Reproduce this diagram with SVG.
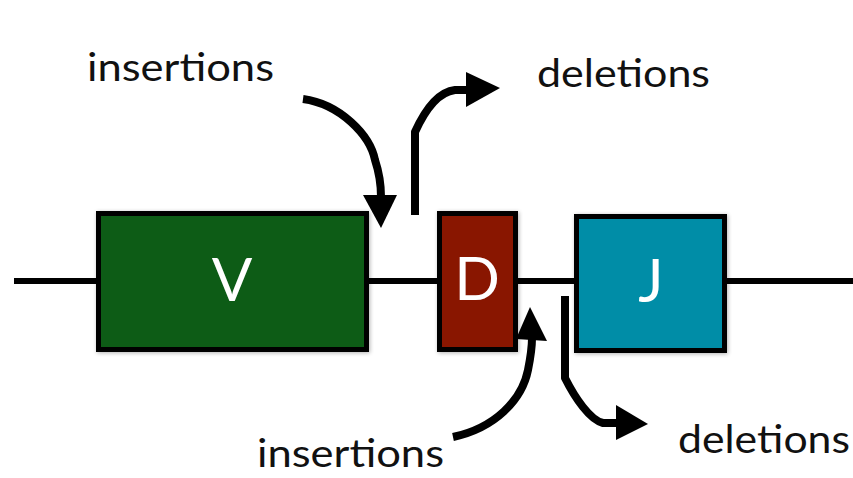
<svg xmlns="http://www.w3.org/2000/svg" width="853" height="478" viewBox="0 0 853 478">
  <style>
    .seg { stroke: #000; stroke-width: 5; }
    .lbl { font-family: Lato, "Noto Sans", sans-serif; font-size: 38px; fill: #111; }
    .gene { font-family: Lato, "Noto Sans", sans-serif; font-size: 60px; fill: #fff; text-anchor: middle; }
    .arrow { fill: none; stroke: #000; stroke-width: 8; stroke-linejoin: round; }
  </style>
  <defs>
    <filter id="shadow" x="-10%" y="-10%" width="120%" height="120%">
      <feGaussianBlur in="SourceAlpha" stdDeviation="2"/>
      <feOffset dx="1" dy="1" result="b"/>
      <feComponentTransfer><feFuncA type="linear" slope="0.3"/></feComponentTransfer>
      <feMerge><feMergeNode/><feMergeNode in="SourceGraphic"/></feMerge>
    </filter>
  </defs>
  <rect width="853" height="478" fill="#fff"/>

  <!-- backbone -->
  <line x1="14" y1="281" x2="853" y2="281" stroke="#000" stroke-width="6"/>

  <g id="node-V" filter="url(#shadow)">
    <rect class="seg" x="98.5" y="213.5" width="268" height="136" fill="#0e5b18"/>
    <text class="gene" x="232" y="301">V</text>
  </g>
  <g id="node-D" filter="url(#shadow)">
    <rect class="seg" x="439.5" y="213.5" width="76" height="136" fill="#891200"/>
    <text class="gene" x="477" y="300">D</text>
  </g>
  <g id="node-J" filter="url(#shadow)">
    <rect class="seg" x="576.5" y="216.5" width="148" height="134" fill="#018da7"/>
    <text class="gene" x="651" y="302">J</text>
  </g>

  <g id="connectors">
    <!-- top insertions -->
    <path class="arrow" d="M303,99 C340,104 370,135 375,160 C380,175 381,185 381,197"/>
    <polygon points="363,195 397,195 381,228"/>
    <!-- top deletions -->
    <path class="arrow" d="M415,215 L415,132 C425,110 438,92 455,90 L468,90"/>
    <polygon points="466,72 466,107 500,88"/>
    <!-- bottom insertions -->
    <path class="arrow" d="M453,437 C495,428 522,400 528,370 C531,355 532,347 532,338"/>
    <polygon points="516,339 547,341 530,307"/>
    <!-- bottom deletions -->
    <path class="arrow" d="M565,296 L565,378 C575,398 590,420 603,423 L618,423"/>
    <polygon points="616,405 616,440 648,424"/>
  </g>

  <g id="labels">
    <text class="lbl" x="87" y="81" textLength="187" lengthAdjust="spacingAndGlyphs">insertions</text>
    <text class="lbl" x="537" y="87" textLength="173" lengthAdjust="spacingAndGlyphs">deletions</text>
    <text class="lbl" x="257" y="467" textLength="187" lengthAdjust="spacingAndGlyphs">insertions</text>
    <text class="lbl" x="678" y="453" textLength="172" lengthAdjust="spacingAndGlyphs">deletions</text>
  </g>
</svg>
